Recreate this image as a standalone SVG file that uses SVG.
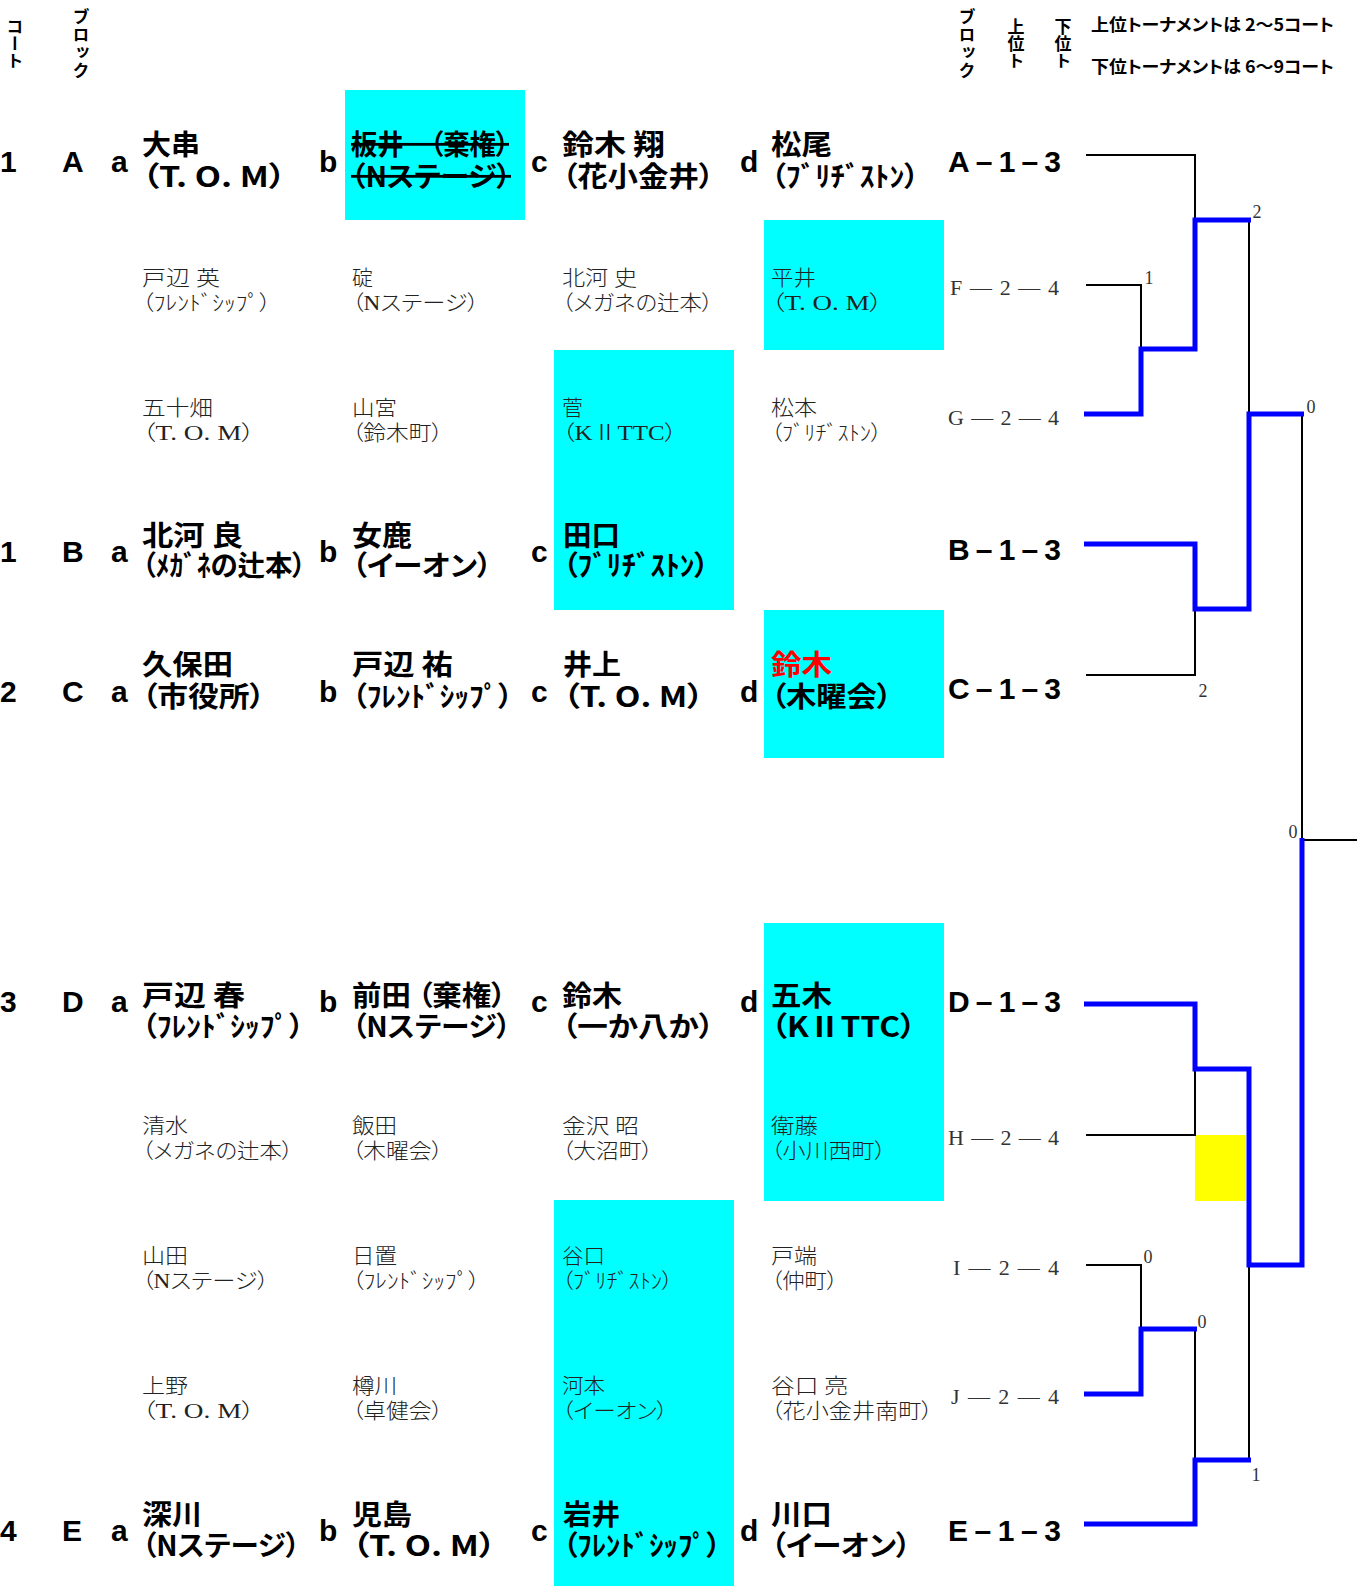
<svg xmlns="http://www.w3.org/2000/svg" width="1370" height="1586" viewBox="0 0 1370 1586">
<style>
.lb{font-family:"Liberation Sans","Noto Sans CJK JP",sans-serif;font-weight:bold;font-size:30px;fill:#000}
.nb{font-family:"Noto Sans CJK JP",sans-serif;font-weight:bold;font-size:28px;fill:#000;font-feature-settings:"palt"}
.nl{font-family:"Liberation Serif","Noto Sans CJK JP",serif;font-weight:300;font-size:21px;fill:#222;font-feature-settings:"palt"}
.sl{font-family:"Liberation Serif",serif;font-size:22px;fill:#333}
.hd{font-family:"Noto Sans CJK JP",sans-serif;font-weight:bold;font-size:17px;fill:#000;font-feature-settings:"palt"}
.vt{font-family:"Noto Sans CJK JP",sans-serif;font-weight:bold;font-size:17px;fill:#000;writing-mode:vertical-rl}
.sc{font-family:"Liberation Serif",serif;font-size:18px;fill:#333;text-anchor:middle}
.bk{fill:none;stroke:#000;stroke-width:2}
.bl{fill:none;stroke:#0000FF;stroke-width:5;stroke-linejoin:miter}
.cy{fill:#00FFFF}
.red{fill:#FF0000}
.st{text-decoration:line-through}
</style>

<!-- highlight boxes -->
<g id="highlights">
<rect class="cy" x="345" y="90" width="180" height="130"/>
<rect class="cy" x="764" y="220" width="180" height="130"/>
<rect class="cy" x="554" y="350" width="180" height="260"/>
<rect class="cy" x="764" y="610" width="180" height="148"/>
<rect class="cy" x="764" y="923" width="180" height="278"/>
<rect class="cy" x="554" y="1200" width="180" height="386"/>
<rect x="1195" y="1135" width="51" height="66" fill="#FFFF00"/>
</g>

<!-- headers -->
<g id="headers">
<text class="vt" x="15" y="18">コート</text>
<text class="vt" x="81" y="8" letter-spacing="1">ブロック</text>
<text class="vt" x="967" y="8" letter-spacing="1">ブロック</text>
<text class="vt" x="1016" y="18">上位ト</text>
<text class="vt" x="1063" y="18">下位ト</text>
<text class="hd" x="1091" y="31" textLength="243" lengthAdjust="spacingAndGlyphs">上位トーナメントは 2〜5コート</text>
<text class="hd" x="1091" y="73" textLength="243" lengthAdjust="spacingAndGlyphs">下位トーナメントは 6〜9コート</text>
</g>

<!-- row labels -->
<g id="row-labels">
<text class="lb" x="0" y="172">1</text><text class="lb" x="62" y="172">A</text><text class="lb" x="111" y="172">a</text><text class="lb" x="319" y="172">b</text><text class="lb" x="531" y="172">c</text><text class="lb" x="740" y="172">d</text>
<text class="lb" x="0" y="562">1</text><text class="lb" x="62" y="562">B</text><text class="lb" x="111" y="562">a</text><text class="lb" x="319" y="562">b</text><text class="lb" x="531" y="562">c</text>
<text class="lb" x="0" y="702">2</text><text class="lb" x="62" y="702">C</text><text class="lb" x="111" y="702">a</text><text class="lb" x="319" y="702">b</text><text class="lb" x="531" y="702">c</text><text class="lb" x="740" y="702">d</text>
<text class="lb" x="0" y="1012">3</text><text class="lb" x="62" y="1012">D</text><text class="lb" x="111" y="1012">a</text><text class="lb" x="319" y="1012">b</text><text class="lb" x="531" y="1012">c</text><text class="lb" x="740" y="1012">d</text>
<text class="lb" x="0" y="1541">4</text><text class="lb" x="62" y="1541">E</text><text class="lb" x="111" y="1541">a</text><text class="lb" x="319" y="1541">b</text><text class="lb" x="531" y="1541">c</text><text class="lb" x="740" y="1541">d</text>
</g>

<!-- Row A -->
<g id="A-a"><text class="nb" x="142" y="155" textLength="58" lengthAdjust="spacingAndGlyphs">大串</text><text class="nb" x="142" y="187" textLength="144" lengthAdjust="spacingAndGlyphs">（T. O. M）</text></g>
<g id="A-b"><text class="nb st" x="351" y="155" textLength="158" lengthAdjust="spacingAndGlyphs">板井　（棄権）</text><text class="nb st" x="351" y="187" textLength="160" lengthAdjust="spacingAndGlyphs">（Nステージ）</text></g>
<g id="A-c"><text class="nb" x="562" y="155" textLength="103" lengthAdjust="spacingAndGlyphs">鈴木 翔</text><text class="nb" x="562" y="187" textLength="152" lengthAdjust="spacingAndGlyphs">（花小金井）</text></g>
<g id="A-d"><text class="nb" x="771" y="155" textLength="61" lengthAdjust="spacingAndGlyphs">松尾</text><text class="nb" x="771" y="187" textLength="148" lengthAdjust="spacingAndGlyphs">（ﾌﾞﾘﾁﾞｽﾄﾝ）</text></g>

<!-- Row F -->
<g id="F-a"><text class="nl" x="142" y="285" textLength="78" lengthAdjust="spacingAndGlyphs">戸辺 英</text><text class="nl" x="142" y="310" textLength="129" lengthAdjust="spacingAndGlyphs">（ﾌﾚﾝﾄﾞｼｯﾌﾟ）</text></g>
<g id="F-b"><text class="nl" x="352" y="285">碇</text><text class="nl" x="352" y="310" textLength="127" lengthAdjust="spacingAndGlyphs">（Nステージ）</text></g>
<g id="F-c"><text class="nl" x="562" y="285" textLength="75" lengthAdjust="spacingAndGlyphs">北河 史</text><text class="nl" x="562" y="310" textLength="151" lengthAdjust="spacingAndGlyphs">（メガネの辻本）</text></g>
<g id="F-d"><text class="nl" x="771" y="285" textLength="45" lengthAdjust="spacingAndGlyphs">平井</text><text class="nl" x="771" y="310" textLength="112" lengthAdjust="spacingAndGlyphs">（T. O. M）</text></g>

<!-- Row G -->
<g id="G-a"><text class="nl" x="142" y="415" textLength="71" lengthAdjust="spacingAndGlyphs">五十畑</text><text class="nl" x="142" y="440" textLength="113" lengthAdjust="spacingAndGlyphs">（T. O. M）</text></g>
<g id="G-b"><text class="nl" x="352" y="415" textLength="45" lengthAdjust="spacingAndGlyphs">山宮</text><text class="nl" x="352" y="440" textLength="91" lengthAdjust="spacingAndGlyphs">（鈴木町）</text></g>
<g id="G-c"><text class="nl" x="562" y="415">菅</text><text class="nl" x="562" y="440" textLength="115" lengthAdjust="spacingAndGlyphs">（KⅡTTC）</text></g>
<g id="G-d"><text class="nl" x="771" y="415" textLength="46" lengthAdjust="spacingAndGlyphs">松本</text><text class="nl" x="771" y="440" textLength="111" lengthAdjust="spacingAndGlyphs">（ﾌﾞﾘﾁﾞｽﾄﾝ）</text></g>

<!-- Row B -->
<g id="B-a"><text class="nb" x="142" y="546" textLength="101" lengthAdjust="spacingAndGlyphs">北河 良</text><text class="nb" x="142" y="576" textLength="164" lengthAdjust="spacingAndGlyphs">（ﾒｶﾞﾈの辻本）</text></g>
<g id="B-b"><text class="nb" x="352" y="546" textLength="60" lengthAdjust="spacingAndGlyphs">女鹿</text><text class="nb" x="352" y="576" textLength="140" lengthAdjust="spacingAndGlyphs">（イーオン）</text></g>
<g id="B-c"><text class="nb" x="563" y="546" textLength="57" lengthAdjust="spacingAndGlyphs">田口</text><text class="nb" x="563" y="576" textLength="146" lengthAdjust="spacingAndGlyphs">（ﾌﾞﾘﾁﾞｽﾄﾝ）</text></g>

<!-- Row C -->
<g id="C-a"><text class="nb" x="142" y="675" textLength="91" lengthAdjust="spacingAndGlyphs">久保田</text><text class="nb" x="142" y="707" textLength="123" lengthAdjust="spacingAndGlyphs">（市役所）</text></g>
<g id="C-b"><text class="nb" x="352" y="675" textLength="101" lengthAdjust="spacingAndGlyphs">戸辺 祐</text><text class="nb" x="352" y="707" textLength="161" lengthAdjust="spacingAndGlyphs">（ﾌﾚﾝﾄﾞｼｯﾌﾟ）</text></g>
<g id="C-c"><text class="nb" x="563" y="675" textLength="58" lengthAdjust="spacingAndGlyphs">井上</text><text class="nb" x="563" y="707" textLength="141" lengthAdjust="spacingAndGlyphs">（T. O. M）</text></g>
<g id="C-d"><text class="nb red" x="771" y="675" textLength="61" lengthAdjust="spacingAndGlyphs">鈴木</text><text class="nb" x="771" y="707" textLength="121" lengthAdjust="spacingAndGlyphs">（木曜会）</text></g>

<!-- Row D -->
<g id="D-a"><text class="nb" x="142" y="1006" textLength="103" lengthAdjust="spacingAndGlyphs">戸辺 春</text><text class="nb" x="142" y="1037" textLength="162" lengthAdjust="spacingAndGlyphs">（ﾌﾚﾝﾄﾞｼｯﾌﾟ）</text></g>
<g id="D-b"><text class="nb" x="352" y="1006" textLength="154" lengthAdjust="spacingAndGlyphs">前田 （棄権）</text><text class="nb" x="352" y="1037" textLength="159" lengthAdjust="spacingAndGlyphs">（Nステージ）</text></g>
<g id="D-c"><text class="nb" x="562" y="1006" textLength="60" lengthAdjust="spacingAndGlyphs">鈴木</text><text class="nb" x="562" y="1037" textLength="152" lengthAdjust="spacingAndGlyphs">（一か八か）</text></g>
<g id="D-d"><text class="nb" x="771" y="1006" textLength="61" lengthAdjust="spacingAndGlyphs">五木</text><text class="nb" x="771" y="1037" textLength="145" lengthAdjust="spacingAndGlyphs">（KⅡTTC）</text></g>

<!-- Row H -->
<g id="H-a"><text class="nl" x="142" y="1133" textLength="46" lengthAdjust="spacingAndGlyphs">清水</text><text class="nl" x="142" y="1158" textLength="151" lengthAdjust="spacingAndGlyphs">（メガネの辻本）</text></g>
<g id="H-b"><text class="nl" x="352" y="1133" textLength="45" lengthAdjust="spacingAndGlyphs">飯田</text><text class="nl" x="352" y="1158" textLength="91" lengthAdjust="spacingAndGlyphs">（木曜会）</text></g>
<g id="H-c"><text class="nl" x="562" y="1133" textLength="77" lengthAdjust="spacingAndGlyphs">金沢 昭</text><text class="nl" x="562" y="1158" textLength="91" lengthAdjust="spacingAndGlyphs">（大沼町）</text></g>
<g id="H-d"><text class="nl" x="771" y="1133" textLength="47" lengthAdjust="spacingAndGlyphs">衛藤</text><text class="nl" x="771" y="1158" textLength="115" lengthAdjust="spacingAndGlyphs">（小川西町）</text></g>

<!-- Row I -->
<g id="I-a"><text class="nl" x="142" y="1263" textLength="46" lengthAdjust="spacingAndGlyphs">山田</text><text class="nl" x="142" y="1288" textLength="127" lengthAdjust="spacingAndGlyphs">（Nステージ）</text></g>
<g id="I-b"><text class="nl" x="352" y="1263" textLength="45" lengthAdjust="spacingAndGlyphs">日置</text><text class="nl" x="352" y="1288" textLength="128" lengthAdjust="spacingAndGlyphs">（ﾌﾚﾝﾄﾞｼｯﾌﾟ）</text></g>
<g id="I-c"><text class="nl" x="562" y="1263" textLength="43" lengthAdjust="spacingAndGlyphs">谷口</text><text class="nl" x="562" y="1288" textLength="111" lengthAdjust="spacingAndGlyphs">（ﾌﾞﾘﾁﾞｽﾄﾝ）</text></g>
<g id="I-d"><text class="nl" x="771" y="1263" textLength="46" lengthAdjust="spacingAndGlyphs">戸端</text><text class="nl" x="771" y="1288" textLength="67" lengthAdjust="spacingAndGlyphs">（仲町）</text></g>

<!-- Row J -->
<g id="J-a"><text class="nl" x="142" y="1393" textLength="46" lengthAdjust="spacingAndGlyphs">上野</text><text class="nl" x="142" y="1418" textLength="113" lengthAdjust="spacingAndGlyphs">（T. O. M）</text></g>
<g id="J-b"><text class="nl" x="352" y="1393" textLength="45" lengthAdjust="spacingAndGlyphs">樽川</text><text class="nl" x="352" y="1418" textLength="91" lengthAdjust="spacingAndGlyphs">（卓健会）</text></g>
<g id="J-c"><text class="nl" x="562" y="1393" textLength="43" lengthAdjust="spacingAndGlyphs">河本</text><text class="nl" x="562" y="1418" textLength="106" lengthAdjust="spacingAndGlyphs">（イーオン）</text></g>
<g id="J-d"><text class="nl" x="771" y="1393" textLength="77" lengthAdjust="spacingAndGlyphs">谷口 亮</text><text class="nl" x="771" y="1418" textLength="162" lengthAdjust="spacingAndGlyphs">（花小金井南町）</text></g>

<!-- Row E -->
<g id="E-a"><text class="nb" x="142" y="1525" textLength="60" lengthAdjust="spacingAndGlyphs">深川</text><text class="nb" x="142" y="1556" textLength="158" lengthAdjust="spacingAndGlyphs">（Nステージ）</text></g>
<g id="E-b"><text class="nb" x="352" y="1525" textLength="60" lengthAdjust="spacingAndGlyphs">児島</text><text class="nb" x="352" y="1556" textLength="144" lengthAdjust="spacingAndGlyphs">（T. O. M）</text></g>
<g id="E-c"><text class="nb" x="563" y="1525" textLength="57" lengthAdjust="spacingAndGlyphs">岩井</text><text class="nb" x="563" y="1556" textLength="158" lengthAdjust="spacingAndGlyphs">（ﾌﾚﾝﾄﾞｼｯﾌﾟ）</text></g>
<g id="E-d"><text class="nb" x="771" y="1525" textLength="61" lengthAdjust="spacingAndGlyphs">川口</text><text class="nb" x="771" y="1556" textLength="140" lengthAdjust="spacingAndGlyphs">（イーオン）</text></g>

<!-- bracket entries -->
<g id="seed-A13"><text class="lb" x="948" y="172" textLength="113" lengthAdjust="spacing">A–1–3</text></g>
<g id="seed-F24"><text class="sl" x="950" y="295" textLength="109" lengthAdjust="spacing">F—2—4</text></g>
<g id="seed-G24"><text class="sl" x="948" y="425" textLength="111" lengthAdjust="spacing">G—2—4</text></g>
<g id="seed-B13"><text class="lb" x="948" y="560" textLength="113" lengthAdjust="spacing">B–1–3</text></g>
<g id="seed-C13"><text class="lb" x="948" y="699" textLength="113" lengthAdjust="spacing">C–1–3</text></g>
<g id="seed-D13"><text class="lb" x="948" y="1012" textLength="113" lengthAdjust="spacing">D–1–3</text></g>
<g id="seed-H24"><text class="sl" x="948" y="1145" textLength="111" lengthAdjust="spacing">H—2—4</text></g>
<g id="seed-I24"><text class="sl" x="953" y="1275" textLength="106" lengthAdjust="spacing">I—2—4</text></g>
<g id="seed-J24"><text class="sl" x="951" y="1404" textLength="108" lengthAdjust="spacing">J—2—4</text></g>
<g id="seed-E13"><text class="lb" x="948" y="1541" textLength="113" lengthAdjust="spacing">E–1–3</text></g>

<!-- connectors -->
<g id="connectors">
<path class="bk" d="M1086,155 H1195 V220"/>
<path class="bk" d="M1086,285 H1141 V349"/>
<path class="bk" d="M1249,220 V414"/>
<path class="bk" d="M1086,675 H1195 V609"/>
<path class="bk" d="M1302,414 V840 H1357"/>
<path class="bk" d="M1086,1135 H1195 V1069"/>
<path class="bk" d="M1086,1265 H1141 V1329"/>
<path class="bk" d="M1195,1329 V1460"/>
<path class="bk" d="M1249,1265 V1460"/>
<path class="bl" d="M1084,414 H1141 V349 H1195 V220 H1251"/>
<path class="bl" d="M1084,544 H1195 V609 H1249 V414 H1304"/>
<path class="bl" d="M1084,1004 H1195 V1069 H1249 V1265 H1302 V838"/>
<path class="bl" d="M1084,1394 H1141 V1329 H1197"/>
<path class="bl" d="M1084,1524 H1195 V1460 H1251"/>
<text class="sc" x="1257" y="218">2</text>
<text class="sc" x="1149" y="284">1</text>
<text class="sc" x="1311" y="413">0</text>
<text class="sc" x="1203" y="697">2</text>
<text class="sc" x="1293" y="838">0</text>
<text class="sc" x="1148" y="1263">0</text>
<text class="sc" x="1202" y="1328">0</text>
<text class="sc" x="1256" y="1481">1</text>
</g>
</svg>
